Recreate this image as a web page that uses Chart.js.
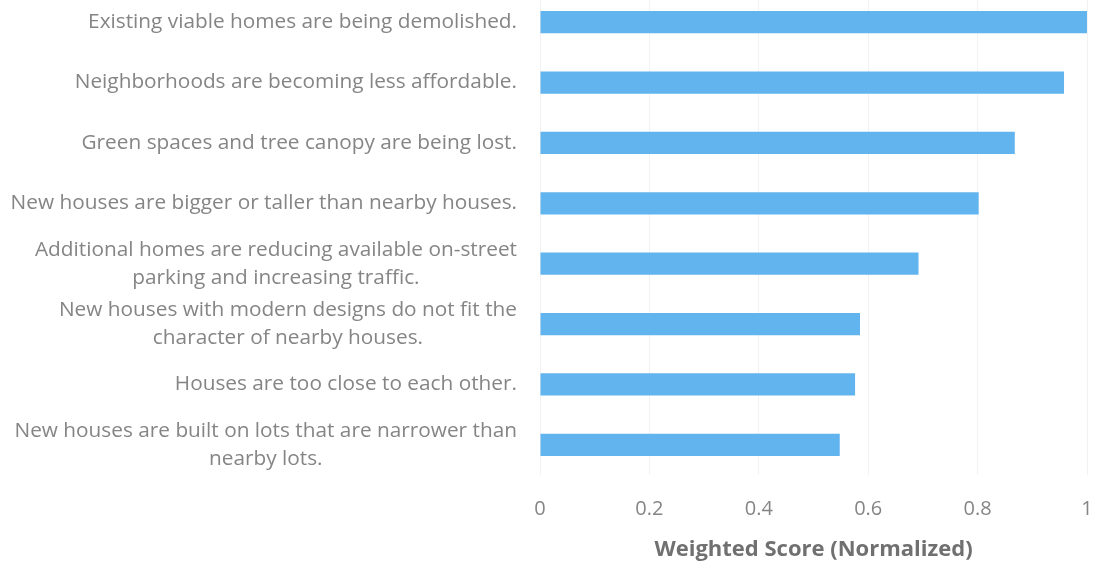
<!DOCTYPE html>
<html>
<head>
<meta charset="utf-8">
<script src="https://cdn.jsdelivr.net/npm/chart.js@4.4.1/dist/chart.umd.min.js"></script>
<style>
  html, body { margin: 0; padding: 0; background: #fff; }
  #wrap { position: relative; width: 1093px; height: 567px; overflow: hidden; }
  #chart-box { position: absolute; left: 0; top: -8px; width: 1093px; height: 575px; }
</style>
</head>
<body>
<div id="wrap"><div id="chart-box"><canvas id="chart"></canvas></div></div>
<script>
// Concerns (multi-line labels as arrays)
const concerns = [
  ["Existing viable homes are being demolished."],
  ["Neighborhoods are becoming less affordable."],
  ["Green spaces and tree canopy are being lost."],
  ["New houses are bigger or taller than nearby houses."],
  ["Additional homes are reducing available on-street", "parking and increasing traffic."],
  ["New houses with modern designs do not fit the", "character of nearby houses."],
  ["Houses are too close to each other."],
  ["New houses are built on lots that are narrower than", "nearby lots."],
];
const scores = [1.0, 0.958, 0.868, 0.802, 0.692, 0.585, 0.576, 0.548];
const xTicks = [0, 0.2, 0.4, 0.6, 0.8, 1];
const axisTitle = "Weighted Score (Normalized)";

const labelFont = "20.8px 'Open Sans'";
const textGray = "#858585";

// draws the category labels: block right-aligned, lines centred inside the block (like Excel)
const categoryLabels = {
  id: "categoryLabels",
  afterDraw(chart) {
    const ctx = chart.ctx;
    const yScale = chart.scales.y;
    ctx.save();
    ctx.font = labelFont;
    ctx.fillStyle = textGray;
    ctx.textAlign = "center";
    ctx.textBaseline = "middle";
    const lineH = 28;
    const right = yScale.right - 23;
    concerns.forEach((lines, i) => {
      const yc = yScale.getPixelForTick(i);
      const maxW = Math.max(...lines.map((l) => ctx.measureText(l).width));
      const xc = right - maxW / 2;
      lines.forEach((l, j) => {
        ctx.fillText(l, xc, yc + (j - (lines.length - 1) / 2) * lineH);
      });
    });
    ctx.restore();
  },
};

new Chart(document.getElementById("chart"), {
  type: "bar",
  data: {
    labels: concerns,
    datasets: [
      {
        data: scores,
        backgroundColor: "#62b4ef",
        borderWidth: 0,
        categoryPercentage: 1,
        barPercentage: 0.37,
      },
    ],
  },
  options: {
    indexAxis: "y",
    responsive: true,
    maintainAspectRatio: false,
    animation: false,
    layout: { padding: 0 },
    plugins: {
      legend: { display: false },
      tooltip: { enabled: false },
    },
    scales: {
      x: {
        min: 0,
        max: 1,
        afterBuildTicks: (scale) => {
          scale.ticks = xTicks.map((v) => ({ value: v }));
        },
        afterFit: (scale) => {
          scale.height = 92;
          scale.paddingLeft = 0;
          scale.paddingRight = 6;
        },
        grid: { color: "#f2f2f2", drawTicks: false },
        border: { display: false },
        ticks: {
          padding: 22,
          color: textGray,
          font: { family: "Open Sans", size: 20 },
          callback: (v) => String(v),
        },
        title: {
          display: true,
          text: axisTitle,
          color: "#707070",
          font: { family: "Open Sans", size: 22, weight: "bold" },
          padding: { top: 0, bottom: 4 },
        },
      },
      y: {
        afterFit: (scale) => {
          scale.width = 540;
        },
        grid: { display: false },
        border: { display: false },
        ticks: { display: false },
      },
    },
  },
  plugins: [categoryLabels],
});
</script>
</body>
</html>
